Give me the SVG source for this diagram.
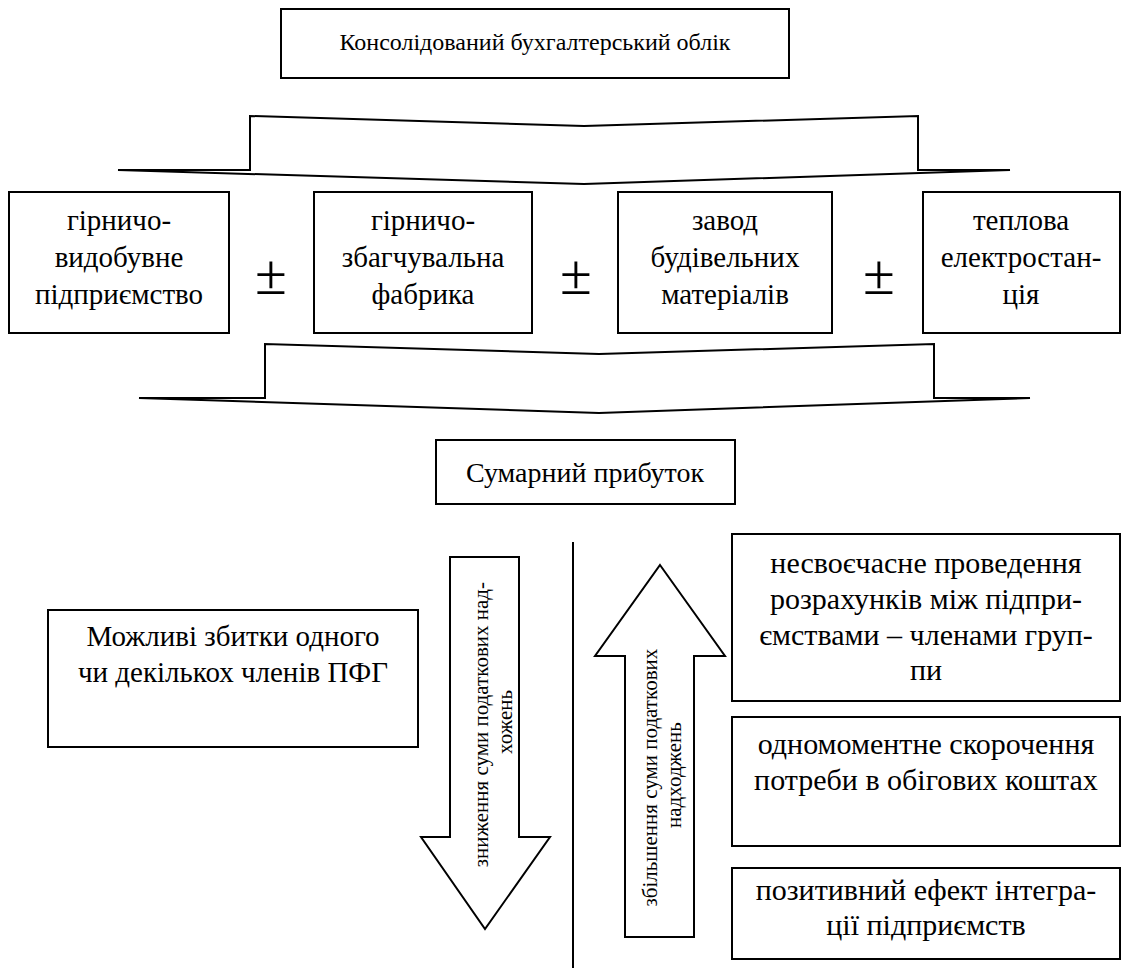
<svg xmlns="http://www.w3.org/2000/svg" width="1129" height="972" viewBox="0 0 1129 972" font-family="'Liberation Serif', 'DejaVu Serif', serif">
  <style>
    .box { fill: #fff; stroke: #000; stroke-width: 2; }
    .shape { fill: #fff; stroke: #000; stroke-width: 2; stroke-linejoin: miter; }
    .line { fill: none; stroke: #000; stroke-width: 2; }
    text { font-family: 'Liberation Serif', 'DejaVu Serif', serif; fill: #000; text-anchor: middle; }
    .t24 { font-size: 24px; }
    .t28 { font-size: 28px; }
    .t29 { font-size: 29px; }
    .t30 { font-size: 30px; }
    .t21 { font-size: 21px; }
    .pm { font-size: 58px; }
  </style>

  <g id="consolidated">
    <rect class="box" x="281" y="9" width="508" height="69"/>
    <text class="t24" x="535" y="50">Консолідований бухгалтерський облік</text>
  </g>

  <g id="connectors">
    <!-- upper brace -->
    <path class="shape" d="M118,170 L250,170 L250,116 L584,126 L918,116 L918,170 L1010,170 L584,184 Z"/>
    <!-- lower brace -->
    <path class="shape" d="M139,398 L265,398 L265,344 L599,354 L934,344 L934,398 L1030,398 L599,413 Z"/>
    <!-- divider -->
    <line class="line" x1="573" y1="542" x2="573" y2="968"/>
  </g>

  <g id="mining">
    <rect class="box" x="9" y="192" width="220" height="141"/>
    <text class="t29" x="119" y="230">гірничо-</text>
    <text class="t29" x="119" y="267">видобувне</text>
    <text class="t29" x="119" y="304">підприємство</text>
  </g>
  <text class="pm" x="271" y="294">±</text>

  <g id="concentrator">
    <rect class="box" x="314" y="192" width="218" height="141"/>
    <text class="t29" x="423" y="230">гірничо-</text>
    <text class="t29" x="423" y="267">збагчувальна</text>
    <text class="t29" x="423" y="304">фабрика</text>
  </g>
  <text class="pm" x="576" y="294">±</text>

  <g id="materials">
    <rect class="box" x="618" y="192" width="214" height="141"/>
    <text class="t29" x="725" y="230">завод</text>
    <text class="t29" x="725" y="267">будівельних</text>
    <text class="t29" x="725" y="304">матеріалів</text>
  </g>
  <text class="pm" x="879" y="294">±</text>

  <g id="powerplant">
    <rect class="box" x="923" y="192" width="197" height="141"/>
    <text class="t29" x="1021" y="230">теплова</text>
    <text class="t29" x="1021" y="267">електростан-</text>
    <text class="t29" x="1021" y="304">ція</text>
  </g>

  <g id="total-profit">
    <rect class="box" x="436" y="440" width="299" height="64"/>
    <text class="t28" x="585" y="482">Сумарний прибуток</text>
  </g>

  <g id="losses">
    <rect class="box" x="48" y="610" width="370" height="137"/>
    <text class="t29" x="233" y="646">Можливі збитки одного</text>
    <text class="t29" x="233" y="682">чи декількох членів ПФГ</text>
  </g>

  <g id="decrease-arrow">
    <path class="shape" d="M450,557 L519,557 L519,837 L550,837 L485,929 L421,837 L450,837 Z"/>
    <text class="t21" transform="translate(488,722) rotate(-90)">
      <tspan x="0" y="0">зниження суми податкових над-</tspan>
      <tspan x="0" y="24">хожень</tspan>
    </text>
  </g>

  <g id="increase-arrow">
    <path class="shape" d="M660,565 L725,656 L694,656 L694,937 L625,937 L625,656 L595,656 Z"/>
    <text class="t21" transform="translate(657,775) rotate(-90)">
      <tspan x="0" y="0">збільшення суми податкових</tspan>
      <tspan x="0" y="24">надходжень</tspan>
    </text>
  </g>

  <g id="late-settlements">
    <rect class="box" x="732" y="534" width="388" height="167"/>
    <text class="t30" x="926" y="573">несвоєчасне проведення</text>
    <text class="t30" x="926" y="609">розрахунків між підпри-</text>
    <text class="t30" x="926" y="645">ємствами – членами груп-</text>
    <text class="t30" x="926" y="680">пи</text>
  </g>

  <g id="working-capital">
    <rect class="box" x="732" y="717" width="388" height="129"/>
    <text class="t30" x="926" y="754">одномоментне скорочення</text>
    <text class="t30" x="926" y="790">потреби в обігових коштах</text>
  </g>

  <g id="integration">
    <rect class="box" x="732" y="868" width="388" height="91"/>
    <text class="t30" x="926" y="900">позитивний ефект інтегра-</text>
    <text class="t30" x="926" y="935">ції підприємств</text>
  </g>
</svg>
